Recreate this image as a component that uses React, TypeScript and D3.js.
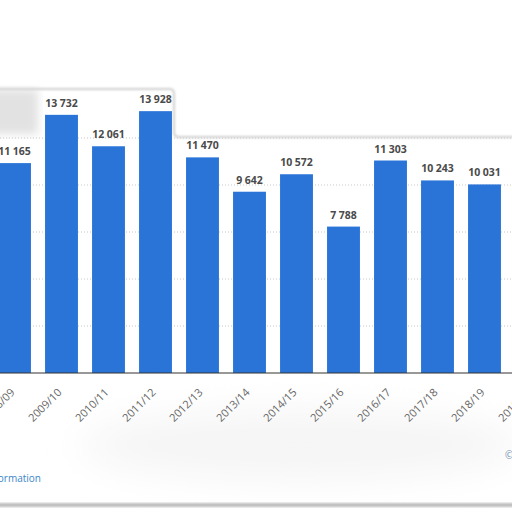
import React, { useRef, useEffect } from "react";
import * as d3 from "d3";

const seasons = [
  "2008/09", "2009/10", "2010/11", "2011/12", "2012/13", "2013/14",
  "2014/15", "2015/16", "2016/17", "2017/18", "2018/19", "2019/20",
];
const values = [11165, 13732, 12061, 13928, 11470, 9642, 10572, 7788, 11303, 10243, 10031, 9900];
const gridTicks = [2500, 5000, 7500, 10000, 12500];

const fmt = (v: number) => d3.format(",")(v).replace(/,/g, " ");

export default function App() {
  const svgRef = useRef<SVGSVGElement>(null);

  useEffect(() => {
    if (!svgRef.current) return;
    document.body.style.margin = "0";
    const svg = d3.select(svgRef.current);
    svg.selectAll("*").remove();

    const width = 512;
    const height = 512;
    svg.attr("width", width).attr("height", height);

    const defs = svg.append("defs");
    defs.append("filter").attr("id", "blur").append("feGaussianBlur").attr("stdDeviation", 4);
    defs.append("filter").attr("id", "wide").attr("x", "-50%").attr("y", "-100%").attr("width", "200%").attr("height", "300%")
      .append("feGaussianBlur").attr("stdDeviation", 18);
    defs.append("filter").attr("id", "soft").append("feGaussianBlur").attr("stdDeviation", 1);

    svg.append("rect").attr("width", width).attr("height", height).attr("fill", "#fff");

    const x = d3.scaleBand<string>()
      .domain(seasons)
      .range([-9, 555])
      .paddingInner(0.3)
      .paddingOuter(0.15);

    const y = d3.scaleLinear().domain([0, 15000]).range([373, 91]);

    // lower page shading
    svg.append("ellipse")
      .attr("cx", 300).attr("cy", 445).attr("rx", 220).attr("ry", 35)
      .attr("fill", "#f5f5f5").attr("filter", "url(#wide)");
    svg.append("rect")
      .attr("x", -10).attr("y", 503).attr("width", 540).attr("height", 4)
      .attr("fill", "#bdbdbd").attr("filter", "url(#soft)");

    // top-left grey shadow
    svg.append("rect")
      .attr("x", -10).attr("y", 90).attr("width", 48).attr("height", 44)
      .attr("fill", "#e2e2e2").attr("filter", "url(#blur)");

    // gridlines
    svg.append("g")
      .selectAll("line")
      .data(gridTicks)
      .join("line")
      .attr("x1", 0).attr("x2", width)
      .attr("y1", d => y(d)).attr("y2", d => y(d))
      .attr("stroke", "#c8c8c8")
      .attr("stroke-dasharray", "1,2");

    // page edge
    svg.append("path")
      .attr("d", "M-5,89 H170 Q174,89 174,94 V132 Q174,137 179,137 H520")
      .attr("fill", "none")
      .attr("stroke", "#cfcfcf")
      .attr("stroke-width", 2)
      .attr("filter", "url(#soft)");

    // bars
    svg.append("g")
      .selectAll("rect")
      .data(seasons)
      .join("rect")
      .attr("x", d => x(d)!)
      .attr("width", x.bandwidth())
      .attr("y", (d, i) => y(values[i]))
      .attr("height", (d, i) => y(0) - y(values[i]))
      .attr("fill", "#2a74d8");

    // value labels
    svg.append("g")
      .selectAll("text")
      .data(seasons)
      .join("text")
      .attr("x", d => x(d)! + x.bandwidth() / 2)
      .attr("y", (d, i) => y(values[i]) - 8)
      .attr("text-anchor", "middle")
      .style("font-family", "'Open Sans', Roboto, sans-serif")
      .style("font-size", "10.5px")
      .style("font-weight", 700)
      .style("fill", "#4a4a4a")
      .text((d, i) => fmt(values[i]));

    // axis line
    svg.append("line")
      .attr("x1", 0).attr("x2", width)
      .attr("y1", y(0)).attr("y2", y(0))
      .attr("stroke", "#333")
      .attr("stroke-width", 1);

    // x labels
    svg.append("g")
      .selectAll("text")
      .data(seasons)
      .join("text")
      .attr("transform", d => `translate(${x(d)! + x.bandwidth() / 2 + 1},${y(0) + 20}) rotate(-45)`)
      .attr("text-anchor", "end")
      .style("font-family", "'Open Sans', Roboto, sans-serif")
      .style("font-size", "11px")
      .style("fill", "#666")
      .text(d => d);

    svg.append("text")
      .attr("x", 41).attr("y", 482)
      .attr("text-anchor", "end")
      .style("font-family", "'Open Sans', Roboto, sans-serif")
      .style("font-size", "10px")
      .style("fill", "#3b86c9")
      .text("Additional Information");

    svg.append("text")
      .attr("x", 505).attr("y", 459)
      .style("font-family", "'Open Sans', Roboto, sans-serif")
      .style("font-size", "10px")
      .style("fill", "#6f8fb0")
      .text("© Statista 2021");
  }, []);

  return <svg ref={svgRef} style={{ display: "block" }} />;
}
